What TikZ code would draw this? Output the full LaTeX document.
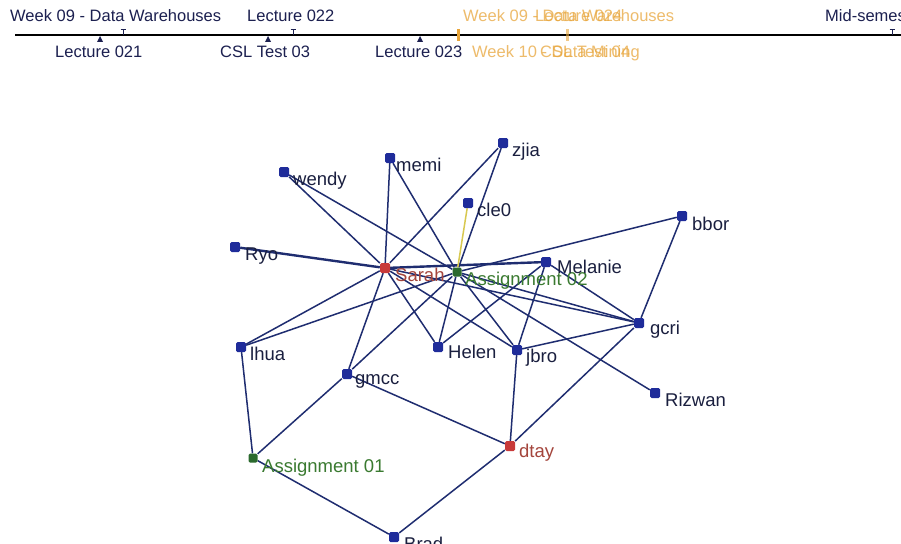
\documentclass[tikz,border=0pt]{standalone}
\usepackage{fontspec}
\setmainfont{Liberation Sans}
\usetikzlibrary{backgrounds}
\definecolor{nodeblue}{HTML}{1F2C9A}
\definecolor{edgecol}{HTML}{1F2D70}
\definecolor{redn}{HTML}{C83A3A}
\definecolor{redt}{HTML}{A4453C}
\definecolor{greenn}{HTML}{2B6A2E}
\definecolor{greent}{HTML}{3A7A30}
\definecolor{txt}{HTML}{1A1F3F}
\definecolor{tltxt}{HTML}{1C2050}
\definecolor{orng}{HTML}{E8A53A}
\definecolor{yel}{HTML}{D8C850}
\tikzset{
  vert/.style={rectangle, rounded corners=1.5pt, minimum size=10pt, inner sep=0pt, fill=nodeblue},
  vred/.style={vert, fill=redn},
  vgreen/.style={vert, fill=greenn, minimum size=9pt},
  lbl/.style={anchor=base west, inner sep=0pt, font=\fontsize{18.5}{18.5}\selectfont, text=txt},
  lblred/.style={lbl, text=redt},
  lblgreen/.style={lbl, text=greent},
  edge/.style={draw=edgecol, line width=1.5pt},
  thickedge/.style={draw=edgecol, line width=2.4pt},
  tl/.style={anchor=base west, inner sep=0pt, font=\fontsize{16.5}{16.5}\selectfont, text=tltxt},
  tlo/.style={tl, text=orng, opacity=0.75},
  tick/.style={draw=tltxt, line width=1pt},
  tri/.style={fill=tltxt},
}
\begin{document}
\begin{tikzpicture}[x=1pt,y=-1pt]
\useasboundingbox (0,0) rectangle (901,543);
\clip (0,0) rectangle (901,543);

% ---- timeline ----
\draw[draw=black, line width=1.2pt] (15,35) -- (901,35);
\node[tl] (t1) at (10,22) {Week 09 - Data Warehouses};
\node[tl] (t2) at (247,22) {Lecture 022};
\node[tl] (t3) at (825,22) {Mid-semester};
\node[tl] (b1) at (55,58) {Lecture 021};
\node[tl] (b2) at (220,58) {CSL Test 03};
\node[tl] (b3) at (375,58) {Lecture 023};
\node[tlo] (o1) at (463,22) {Week 09 - Data Warehouses};
\node[tlo] (o2) at (535,22) {Lecture 024};
\node[tlo] (o3) at (472,58) {Week 10 - Data Mining};
\node[tlo] (o4) at (540,58) {CSL Test 04};
% top ticks
\foreach \x in {123,293,892}{
  \draw[tick] (\x,30) -- (\x,35);
  \draw[tick] (\x-2.5,30) -- (\x+2.5,30);
}
% bottom markers
\foreach \x in {100,268,420}{
  \fill[tri] (\x,36) -- (\x-3,42) -- (\x+3,42) -- cycle;
}
% orange markers
\fill[orng] (456.5,29) rectangle (459.5,41);
\fill[orng, opacity=0.6] (565.5,29) rectangle (568.5,41);

% ---- graph nodes ----
\node[vert] (wendy) at (284,172) {};
\node[vert] (memi) at (390,158) {};
\node[vert] (zjia) at (503,143) {};
\node[vert] (cle0) at (468,203) {};
\node[vert] (bbor) at (682,216) {};
\node[vert] (ryo) at (235,247) {};
\node[vred] (sarah) at (385,268) {};
\node[vgreen] (a02) at (457,272) {};
\node[vert] (melanie) at (546,262) {};
\node[vert] (gcri) at (639,323) {};
\node[vert] (lhua) at (241,347) {};
\node[vert] (helen) at (438,347) {};
\node[vert] (jbro) at (517,350) {};
\node[vert] (gmcc) at (347,374) {};
\node[vert] (rizwan) at (655,393) {};
\node[vred] (dtay) at (510,446) {};
\node[vgreen] (a01) at (253,458) {};
\node[vert] (brad) at (394,537) {};

% ---- labels ----
\node[lbl] (wendyT) at (293,185) {wendy};
\node[lbl] (memiT) at (396,171) {memi};
\node[lbl] (zjiaT) at (512,156) {zjia};
\node[lbl] (cle0T) at (477,216) {cle0};
\node[lbl] (bborT) at (692,230) {bbor};
\node[lbl] (ryoT) at (245,260) {Ryo};
\node[lblred] (sarahT) at (395,281) {Sarah};
\node[lblgreen] (a02T) at (465,285) {Assignment 02};
\node[lbl] (melanieT) at (557,273) {Melanie};
\node[lbl] (gcriT) at (650,334) {gcri};
\node[lbl] (lhuaT) at (250,360) {lhua};
\node[lbl] (helenT) at (448,358) {Helen};
\node[lbl] (jbroT) at (526,362) {jbro};
\node[lbl] (gmccT) at (355,384) {gmcc};
\node[lbl] (rizwanT) at (665,406) {Rizwan};
\node[lblred] (dtayT) at (519,457) {dtay};
\node[lblgreen] (a01T) at (262,472) {Assignment 01};
\node[lbl] (bradT) at (404,550) {Brad};

% ---- edges ----
\begin{scope}[on background layer]
  \fill[white] (0,0) rectangle (901,543);
  \foreach \a in {wendy,memi,zjia,helen,jbro,gcri,lhua,gmcc}
    \draw[edge] (sarah) -- (\a);
  \draw[thickedge] (ryo) -- (sarah);
  \draw[thickedge] (sarah) -- (melanie);
  \foreach \a in {wendy,memi,zjia,bbor,helen,jbro,gcri,rizwan,lhua,gmcc}
    \draw[edge] (a02) -- (\a);
  \draw[draw=yel, line width=1.5pt] (a02) -- (cle0);
  \draw[edge] (melanie) -- (jbro);
  \draw[edge] (melanie) -- (gcri);
  \draw[edge] (melanie) -- (helen);
  \draw[edge] (bbor) -- (gcri);
  \draw[edge] (jbro) -- (gcri);
  \draw[edge] (jbro) -- (dtay);
  \draw[edge] (gcri) -- (dtay);
  \draw[edge] (gmcc) -- (dtay);
  \draw[edge] (gmcc) -- (a01);
  \draw[edge] (lhua) -- (a01);
  \draw[edge] (a01) -- (brad);
  \draw[edge] (dtay) -- (brad);
\end{scope}
\end{tikzpicture}
\end{document}
